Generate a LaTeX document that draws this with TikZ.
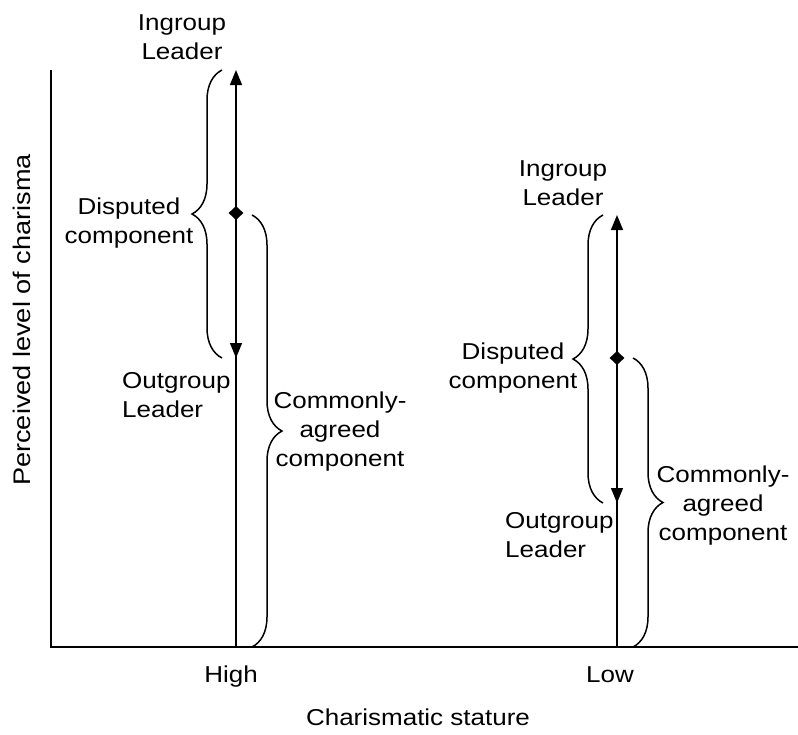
\documentclass[tikz,border=0pt]{standalone}
\usepackage{fontspec}
\setmainfont[FakeStretch=1.13]{Liberation Sans}
\usetikzlibrary{arrows.meta,decorations.pathreplacing,shapes.geometric}
\begin{document}
\begin{tikzpicture}[x=1pt,y=-1pt,
  lbl/.style={font=\fontsize{23}{29}\selectfont, align=center, inner sep=0pt, anchor=base},
  lblw/.style={font=\fontsize{23}{29}\selectfont, align=left, inner sep=0pt, anchor=base west},
  vline/.style={line width=1.4pt},
  axisline/.style={line width=2pt},
  brc/.style={decorate, decoration={brace, amplitude=30pt}, line width=1.5pt},
  arr/.style={-{Triangle[length=15pt,width=12pt]}},
  dmd/.style={diamond, fill=black, inner sep=0pt, minimum width=15pt, minimum height=14pt}
]
\useasboundingbox (0,0) rectangle (798,734);
% axes
\coordinate (ytop) at (51,70);
\coordinate (O) at (51,647);
\coordinate (xend) at (798,647);
\draw[axisline] (ytop) -- (O) -- (xend);
\node[font=\fontsize{24}{29}\selectfont, rotate=90, inner sep=0pt] (ylab) at (22,320) {Perceived level of charisma};
\node[lbl] (xlab) at (418,725) {Charismatic stature};
\node[lbl] (high) at (231,682) {High};
\node[lbl] (low) at (610,682) {Low};
% left group
\coordinate (Lbase) at (236,647);
\coordinate (Ltop) at (236,70);
\coordinate (Lout) at (236,358);
\draw[vline, arr] (Lbase) -- (Ltop);
\node[dmd] (Ldia) at (236,213) {};
\draw[vline, arr] (Ldia.center) -- (Lout);
\coordinate (Lb1s) at (222,358);
\coordinate (Lb1e) at (222,70);
\draw[brc] (Lb1s) -- (Lb1e);
\coordinate (Lb2s) at (252,215);
\coordinate (Lb2e) at (252,647);
\draw[brc] (Lb2s) -- (Lb2e);
\node[lbl] (Lin) at (182,59) {Ingroup\\Leader};
\node[lbl] (Ldisp) at (129,243) {Disputed\\component};
\node[lblw] (Loutl) at (122,417) {Outgroup\\Leader};
\node[lbl] (Lcom) at (340,466) {Commonly-\\agreed\\component};
% right group
\coordinate (Rbase) at (617,647);
\coordinate (Rtop) at (617,215);
\coordinate (Rout) at (617,503);
\draw[vline, arr] (Rbase) -- (Rtop);
\node[dmd] (Rdia) at (617,358) {};
\draw[vline, arr] (Rdia.center) -- (Rout);
\coordinate (Rb1s) at (603,503);
\coordinate (Rb1e) at (603,215);
\draw[brc] (Rb1s) -- (Rb1e);
\coordinate (Rb2s) at (633,358);
\coordinate (Rb2e) at (633,647);
\draw[brc] (Rb2s) -- (Rb2e);
\node[lbl] (Rin) at (563,205) {Ingroup\\Leader};
\node[lbl] (Rdisp) at (513,388) {Disputed\\component};
\node[lblw] (Routl) at (505,557) {Outgroup\\Leader};
\node[lbl] (Rcom) at (723,540) {Commonly-\\agreed\\component};
\end{tikzpicture}
\end{document}
